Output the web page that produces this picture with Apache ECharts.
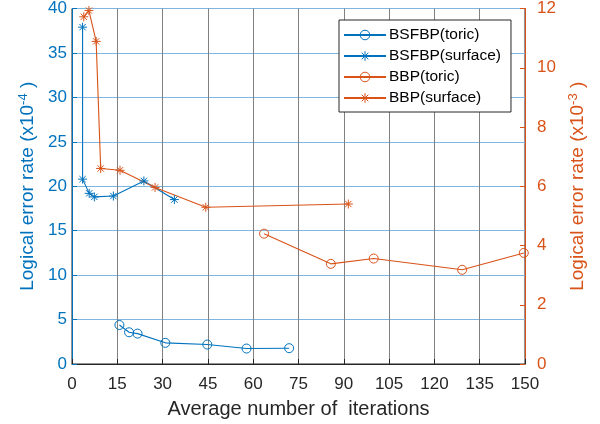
<!DOCTYPE html>
<html>
<head>
<meta charset="utf-8">
<script src="https://cdn.jsdelivr.net/npm/echarts@6/dist/echarts.min.js"></script>
<style>
  html, body { margin: 0; padding: 0; background: #fff; }
  #chart { width: 600px; height: 424px; }
</style>
</head>
<body>
<div id="chart"></div>
<script>
// Average number of iterations (x) and logical error rates (y) per decoder / code
const iterBsfbpToric = [15.7, 18.9, 21.7, 30.9, 44.8, 57.8, 71.9];
const rateBsfbpToric = [4.39, 3.57, 3.42, 2.38, 2.19, 1.74, 1.78];          // x10^-4

const iterBsfbpSurface = [3.5, 3.5, 5.7, 7.4, 13.7, 23.8, 33.9];
const rateBsfbpSurface = [37.9, 20.8, 19.2, 18.8, 18.9, 20.6, 18.5];     // x10^-4

const iterBbpToric = [63.6, 85.7, 99.9, 129.2, 149.6];
const rateBbpToric = [4.40, 3.38, 3.56, 3.18, 3.75];                     // x10^-3

const iterBbpSurface = [3.9, 5.6, 8.0, 9.5, 15.9, 27.5, 44.3, 91.5];
const rateBbpSurface = [11.72, 11.93, 10.89, 6.60, 6.54, 5.96, 5.29, 5.40]; // x10^-3

const xTicks = { min: 0, max: 150, interval: 15 };
const leftTicks = { min: 0, max: 40, interval: 5 };
const rightTicks = { min: 0, max: 12, interval: 2 };

const BLUE = '#0072BD';
const ORANGE = '#D95319';
const FONT = 'Liberation Sans, Arial, sans-serif';
const ASTERISK = 'path://M0,-10L0,10M-10,0L10,0M-7,-7L7,7M-7,7L7,-7';

const zip = (xs, ys) => xs.map((x, i) => [x, ys[i]]);

function lineSeries(name, xs, ys, color, axis, marker) {
  const star = marker === 'star';
  return {
    name: name,
    type: 'line',
    yAxisIndex: axis,
    data: zip(xs, ys),
    symbol: star ? ASTERISK : 'circle',
    symbolSize: 9,
    showAllSymbol: true,
    clip: false,
    lineStyle: { color: color, width: 1.1 },
    itemStyle: {
      color: star ? color : 'rgba(255,255,255,0)',
      borderColor: color,
      borderWidth: 1
    },
    emphasis: { disabled: true },
    animation: false
  };
}

const chart = echarts.init(document.getElementById('chart'), null, { renderer: 'canvas' });

chart.setOption({
  animation: false,
  backgroundColor: '#fff',
  textStyle: { fontFamily: FONT },
  grid: {
    left: 72, right: 75, top: 7, bottom: 59,
    show: true, borderColor: '#262626', borderWidth: 1, backgroundColor: '#fff'
  },
  legend: {
    orient: 'vertical',
    left: 339, top: 20,
    width: 174,
    padding: [7, 10, 6, 4],
    itemGap: 5,
    itemWidth: 42,
    itemHeight: 12,
    backgroundColor: '#fff',
    borderColor: '#262626',
    borderWidth: 1,
    borderRadius: 0,
    itemStyle: { borderWidth: 1 },
    textStyle: { fontFamily: FONT, fontSize: 15.5, color: '#000', padding: [0, 0, 0, -2] },
    data: ['BSFBP(toric)', 'BSFBP(surface)', 'BBP(toric)', 'BBP(surface)']
  },
  xAxis: {
    type: 'value',
    min: xTicks.min, max: xTicks.max, interval: xTicks.interval,
    name: 'Average number of  iterations',
    nameLocation: 'middle',
    nameGap: 35,
    nameTextStyle: { fontFamily: FONT, fontSize: 20, color: '#262626' },
    axisLine: { show: true, lineStyle: { color: '#262626', width: 1 } },
    axisTick: { show: true, inside: true, length: 5, lineStyle: { color: '#262626' } },
    axisLabel: { fontFamily: FONT, fontSize: 17, color: '#262626', margin: 12 },
    splitLine: { show: true, lineStyle: { color: '#808080', width: 1 } }
  },
  yAxis: [
    {
      type: 'value',
      position: 'left',
      min: leftTicks.min, max: leftTicks.max, interval: leftTicks.interval,
      name: 'Logical error rate (x10{sup|-4} )',
      nameLocation: 'middle',
      nameGap: 32,
      nameTextStyle: {
        fontFamily: FONT, fontSize: 19, color: BLUE,
        rich: { sup: { fontFamily: FONT, fontSize: 13, color: BLUE, padding: [0, 0, 9, 0] } }
      },
      axisLine: { show: true, lineStyle: { color: BLUE, width: 1 } },
      axisTick: { show: true, inside: true, length: 5, lineStyle: { color: BLUE } },
      axisLabel: { fontFamily: FONT, fontSize: 17, color: BLUE, margin: 5 },
      splitLine: { show: true, lineStyle: { color: '#7db6e0', width: 1.2 } }
    },
    {
      type: 'value',
      position: 'right',
      min: rightTicks.min, max: rightTicks.max, interval: rightTicks.interval,
      name: 'Logical error rate (x10{sup|-3} )',
      nameLocation: 'middle',
      nameGap: 39,
      nameRotate: 90,
      nameTextStyle: {
        fontFamily: FONT, fontSize: 19, color: ORANGE,
        rich: { sup: { fontFamily: FONT, fontSize: 13, color: ORANGE, padding: [0, 0, 9, 0] } }
      },
      axisLine: { show: true, lineStyle: { color: ORANGE, width: 1 } },
      axisTick: { show: true, inside: true, length: 5, lineStyle: { color: ORANGE } },
      axisLabel: { fontFamily: FONT, fontSize: 17, color: ORANGE, margin: 12 },
      splitLine: { show: false }
    }
  ],
  series: [
    lineSeries('BSFBP(toric)', iterBsfbpToric, rateBsfbpToric, BLUE, 0, 'circle'),
    lineSeries('BSFBP(surface)', iterBsfbpSurface, rateBsfbpSurface, BLUE, 0, 'star'),
    lineSeries('BBP(toric)', iterBbpToric, rateBbpToric, ORANGE, 1, 'circle'),
    lineSeries('BBP(surface)', iterBbpSurface, rateBbpSurface, ORANGE, 1, 'star')
  ]
});
</script>
</body>
</html>
